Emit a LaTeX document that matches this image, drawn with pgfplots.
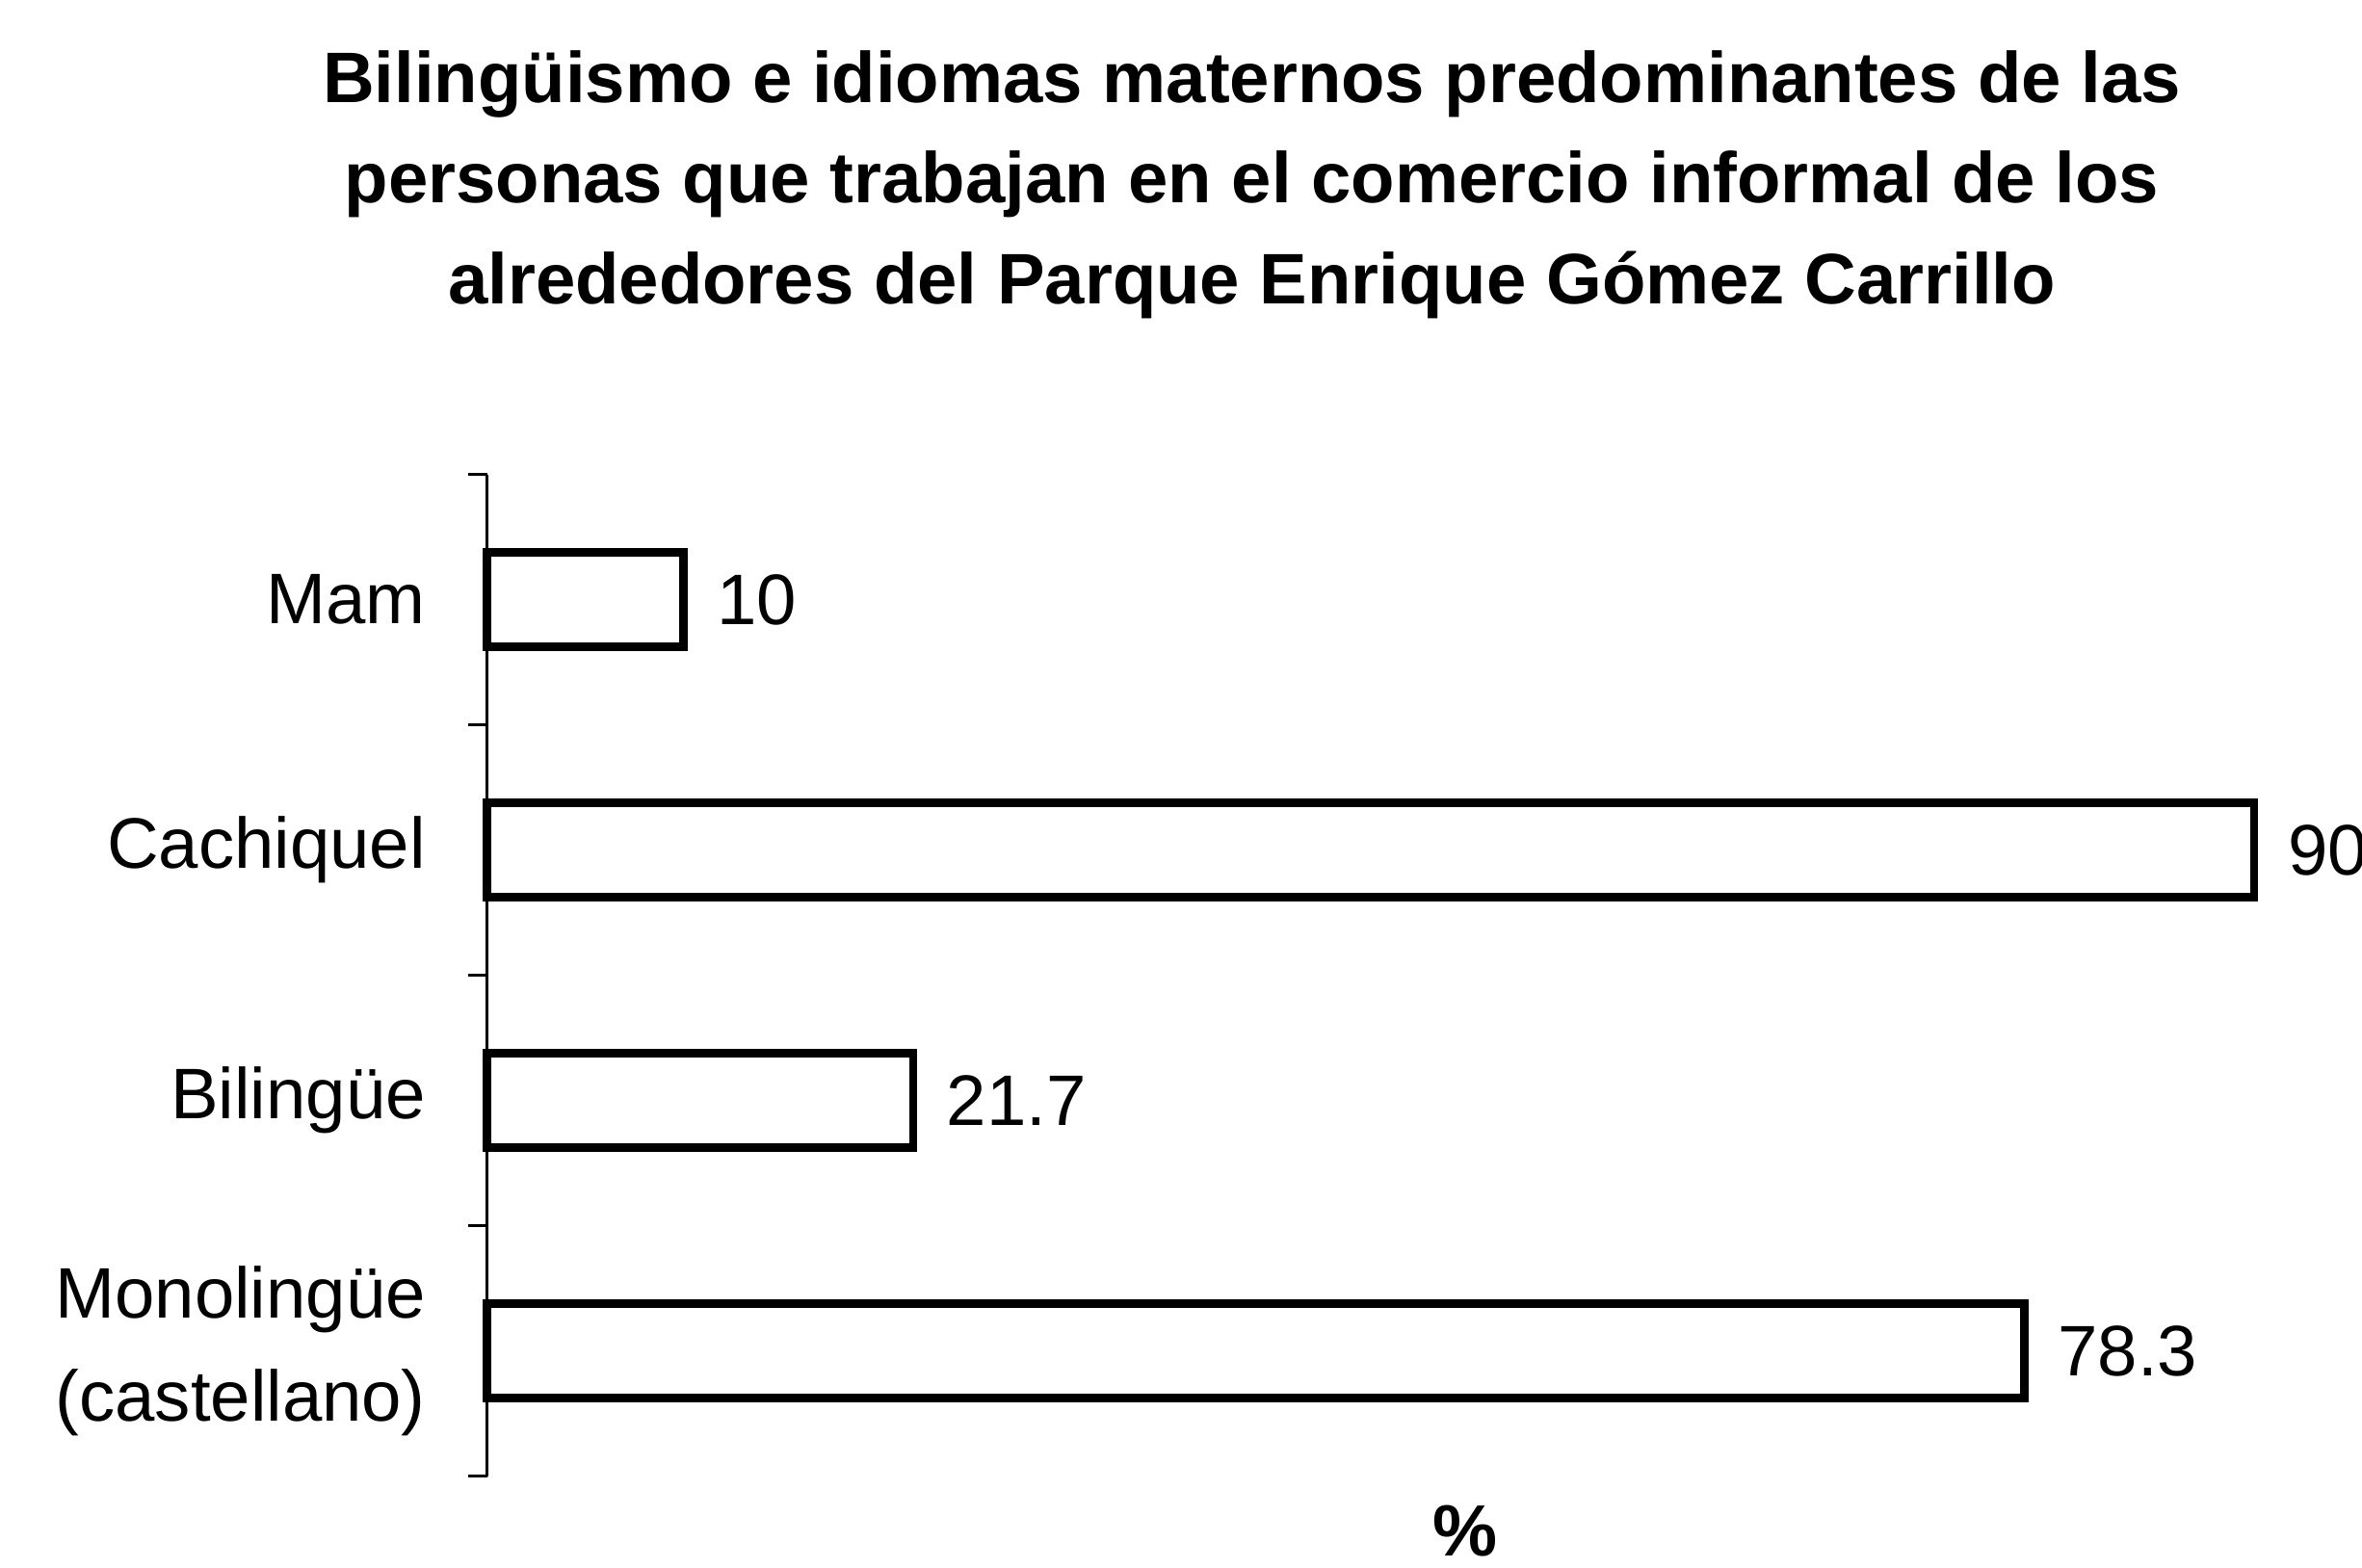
\documentclass[border=0pt]{standalone}
\usepackage{fontspec}
\setmainfont{Liberation Sans}
\usepackage{pgfplots}
\pgfplotsset{compat=1.18}

\begin{document}
\begin{tikzpicture}
\useasboundingbox (0,0) rectangle (16cm,10.623cm);

% title, one node per line
\begin{scope}[every node/.style={anchor=base, inner sep=0pt, font=\bfseries\fontsize{13.8}{19.5}\selectfont}]
\node at (8.48cm,9.925cm) {Bilingüismo e idiomas maternos predominantes de las};
\node at (8.48cm,9.252cm) {personas que trabajan en el comercio informal de los};
\node at (8.48cm,8.567cm) {alrededores del Parque Enrique Gómez Carrillo};
\end{scope}

\begin{axis}[
    at={(3.30cm,0.622cm)}, anchor=south west,
    scale only axis,
    width=11.97cm, height=6.786cm,
    xbar,
    xmin=0, xmax=90,
    ymin=-0.5, ymax=3.5,
    axis x line=none,
    axis y line=left,
    y axis line style={-, line width=0.6pt},
    clip=false,
    ytick={0,1,2,3},
    yticklabels={{Monolingüe\\(castellano)},Bilingüe,Cachiquel,Mam},
    major tick length=0pt,
    tick align=outside,
    yticklabel style={align=right, inner sep=0pt, xshift=-0.41cm,
        font=\fontsize{13.8}{19.8}\selectfont},
    extra y ticks={-0.5,0.5,1.5,2.5,3.5},
    extra y tick labels={},
    extra y tick style={major tick length=0.13cm, tick style={line width=0.6pt, black}},
    bar width=0.64cm,
    point meta=explicit symbolic,
    nodes near coords,
    every node near coord/.append style={anchor=west, inner sep=0pt, xshift=0.2cm,
        font=\fontsize{13.8}{16}\selectfont},
]
\addplot[draw=black, fill=white, line width=1.6pt] coordinates {
    (78.3,0) [78.3]
    (21.7,1) [21.7]
    (90,2) [90]
    (10,3) [10]
};
\end{axis}

\node[anchor=base, inner sep=0pt, font=\bfseries\fontsize{14}{16}\selectfont] at (9.925cm,0.08cm) {\%};
\end{tikzpicture}
\end{document}
